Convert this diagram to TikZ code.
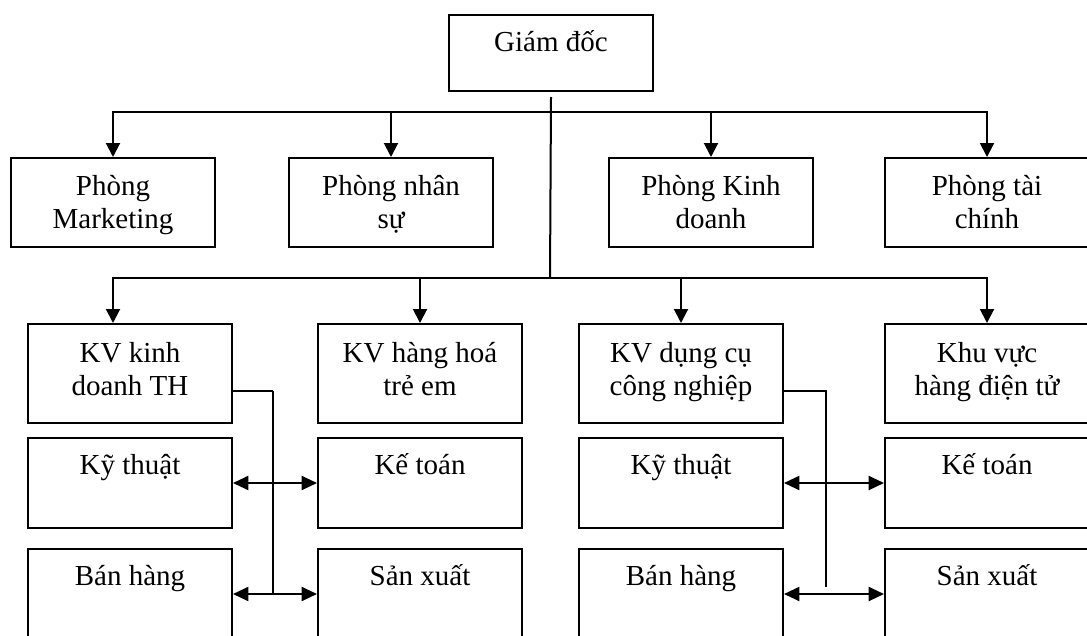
\documentclass[tikz,border=0pt]{standalone}
\usepackage{fontspec}
\setmainfont{Liberation Serif}
\usetikzlibrary{arrows.meta,calc}
\begin{document}
\begin{tikzpicture}[x=0.75pt,y=-0.75pt,
  box/.style={draw,line width=1.5pt,inner sep=0pt,anchor=north west,minimum width=153pt},
  topbox/.style={box,minimum height=57pt},
  rowa/.style={box,minimum height=66.75pt},
  rowb/.style={box,minimum height=74.25pt},
  rowc/.style={box,minimum height=67.5pt},
  lbl/.style={anchor=base,inner sep=0pt,font=\fontsize{21.75}{24.75}\selectfont},
  wire/.style={line width=1.5pt},
  thinwire/.style={line width=0.9pt},
  down/.style={wire,-{Triangle[length=10.5pt,width=10.5pt]}},
  both/.style={wire,{Triangle[length=11.5pt,width=10.5pt]}-{Triangle[length=11.5pt,width=10.5pt]}},
]
\useasboundingbox (0,0) rectangle (1087,635);
\clip (0,0) rectangle (1087,635);

% director
\node[topbox] (gd) at (448,14) {};
\node[lbl] (gd-t) at ($(gd.north)+(0,38)$) {Giám đốc};

% departments
\node[rowa] (pmk) at (10,157) {};
\node[rowa] (pns) at (288,157) {};
\node[rowa] (pkd) at (608,157) {};
\node[rowa] (ptc) at (884,157) {};
\node[lbl] (pmk-t1) at ($(pmk.north)+(0,38)$) {Phòng};
\node[lbl] (pmk-t2) at ($(pmk.north)+(0,71)$) {Marketing};
\node[lbl] (pns-t1) at ($(pns.north)+(0,38)$) {Phòng nhân};
\node[lbl] (pns-t2) at ($(pns.north)+(0,71)$) {sự};
\node[lbl] (pkd-t1) at ($(pkd.north)+(0,38)$) {Phòng Kinh};
\node[lbl] (pkd-t2) at ($(pkd.north)+(0,71)$) {doanh};
\node[lbl] (ptc-t1) at ($(ptc.north)+(0,38)$) {Phòng tài};
\node[lbl] (ptc-t2) at ($(ptc.north)+(0,71)$) {chính};

% business areas
\node[rowb] (kv1) at (27,323) {};
\node[rowb] (kv2) at (317,323) {};
\node[rowb] (kv3) at (578,323) {};
\node[rowb] (kv4) at (884,323) {};
\node[lbl] (kv1-t1) at ($(kv1.north)+(0,39)$) {KV kinh};
\node[lbl] (kv1-t2) at ($(kv1.north)+(0,72)$) {doanh TH};
\node[lbl] (kv2-t1) at ($(kv2.north)+(0,39)$) {KV hàng hoá};
\node[lbl] (kv2-t2) at ($(kv2.north)+(0,72)$) {trẻ em};
\node[lbl] (kv3-t1) at ($(kv3.north)+(0,39)$) {KV dụng cụ};
\node[lbl] (kv3-t2) at ($(kv3.north)+(0,72)$) {công nghiệp};
\node[lbl] (kv4-t1) at ($(kv4.north)+(0,39)$) {Khu vực};
\node[lbl] (kv4-t2) at ($(kv4.north)+(0,72)$) {hàng điện tử};

% units
\node[rowc] (kt1) at (27,437) {};
\node[rowc] (ke1) at (317,437) {};
\node[rowc] (kt2) at (578,437) {};
\node[rowc] (ke2) at (884,437) {};
\node[rowc] (bh1) at (27,548) {};
\node[rowc] (sx1) at (317,548) {};
\node[rowc] (bh2) at (578,548) {};
\node[rowc] (sx2) at (884,548) {};
\node[lbl] (kt1-t) at ($(kt1.north)+(0,37)$) {Kỹ thuật};
\node[lbl] (ke1-t) at ($(ke1.north)+(0,37)$) {Kế toán};
\node[lbl] (kt2-t) at ($(kt2.north)+(0,37)$) {Kỹ thuật};
\node[lbl] (ke2-t) at ($(ke2.north)+(0,37)$) {Kế toán};
\node[lbl] (bh1-t) at ($(bh1.north)+(0,37)$) {Bán hàng};
\node[lbl] (sx1-t) at ($(sx1.north)+(0,37)$) {Sản xuất};
\node[lbl] (bh2-t) at ($(bh2.north)+(0,37)$) {Bán hàng};
\node[lbl] (sx2-t) at ($(sx2.north)+(0,37)$) {Sản xuất};

% trunk and the two distribution buses
\coordinate (trunkTop) at ($(gd.south)+(0,5)$);
\coordinate (busA) at (550,112);
\coordinate (busB) at (550,278);
\draw[wire] (trunkTop) -- (busB);

\draw[down] (busA) -- (busA -| pmk.north) -- (pmk.north);
\draw[down] (busA) -- (busA -| ptc.north) -- (ptc.north);
\draw[down] (busA -| pns.north) -- (pns.north);
\draw[down] (busA -| pkd.north) -- (pkd.north);

\draw[down] (busB) -- (busB -| pmk.north) -- (pmk.north |- kv1.north);
\draw[down] (busB) -- (busB -| kv4.north) -- (kv4.north);
\draw[down] (busB -| kv2.north) -- (kv2.north);
\draw[down] (busB -| kv3.north) -- (kv3.north);

% left group links
\coordinate (jl) at (273,391);
\draw[thinwire] (kv1.east |- jl) -- (jl);
\draw[wire] (jl) -- (jl |- bh1.east);
\draw[both] (kt1.east) -- (ke1.west);
\draw[both] (bh1.east) -- (sx1.west);

% right group links
\coordinate (jr) at (826,391);
\draw[thinwire] (kv3.east |- jr) -- (jr) -- ($(jr |- bh2.east)+(0,-7)$);
\draw[both] (kt2.east) -- (ke2.west);
\draw[both] (bh2.east) -- (sx2.west);
\end{tikzpicture}
\end{document}
